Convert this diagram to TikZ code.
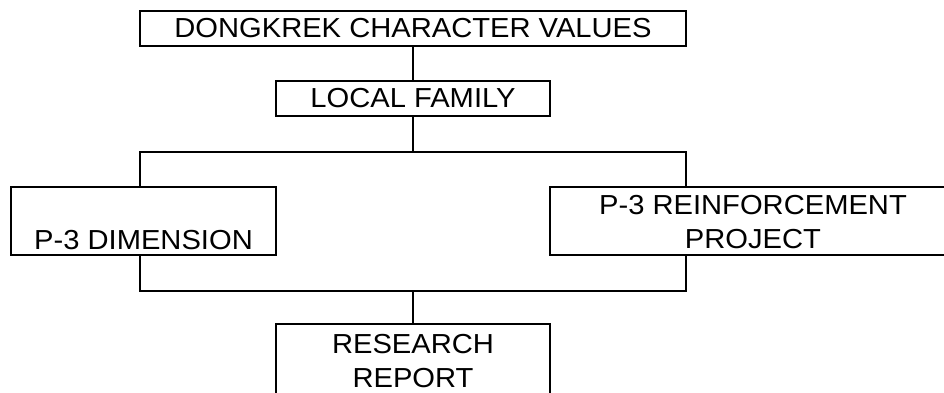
\documentclass[tikz,border=0pt]{standalone}
\usepackage{fontspec}
\setmainfont[FakeStretch=1.06]{Liberation Sans}
\begin{document}
\begin{tikzpicture}[x=1pt,y=-1pt,
  box/.style={draw=black,line width=1.4pt,rectangle,inner sep=0pt,align=center},
  txtfont/.style={font=\fontsize{27.5}{34}\selectfont},
  lbl/.style={inner sep=0pt,align=center,txtfont},
  conn/.style={draw=black,line width=1.4pt}]
\useasboundingbox (0,0) rectangle (944,392);
\clip (0,0) rectangle (944,392);
% boxes
\node[box,txtfont,minimum width=546pt,minimum height=35pt] (top) at (413,28.5) {DONGKREK CHARACTER VALUES};
\node[box,txtfont,minimum width=274pt,minimum height=35pt] (lf) at (413,98.5) {LOCAL FAMILY};
\node[box,minimum width=265pt,minimum height=68pt] (dim) at (143.5,221) {};
\node[box,minimum width=406pt,minimum height=68pt] (rein) at (753,221) {};
\node[box,minimum width=274pt,minimum height=70pt] (rr) at (413,359) {};
% texts
\node[lbl,anchor=base] (dimtxt) at (143.5,249) {P-3 DIMENSION};
\node[lbl,anchor=north] (reintxt) at (753,195) {P-3 REINFORCEMENT\\PROJECT};
\node[lbl,anchor=north] (rrtxt) at (413,334.5) {RESEARCH\\REPORT};
% junction coordinates
\coordinate (j1) at (413,152);
\coordinate (jl1) at (140,152);
\coordinate (jr1) at (686,152);
\coordinate (j2) at (413,291);
\coordinate (jl2) at (140,291);
\coordinate (jr2) at (686,291);
% connectors
\draw[conn] (top.south) -- (lf.north);
\draw[conn] (lf.south) -- (j1);
\draw[conn] (jl1 |- dim.north) -- (jl1) -- (jr1) -- (jr1 |- rein.north);
\draw[conn] (jl1 |- dim.south) -- (jl2) -- (jr2) -- (jr2 |- rein.south);
\draw[conn] (j2) -- (rr.north);
\end{tikzpicture}
\end{document}
